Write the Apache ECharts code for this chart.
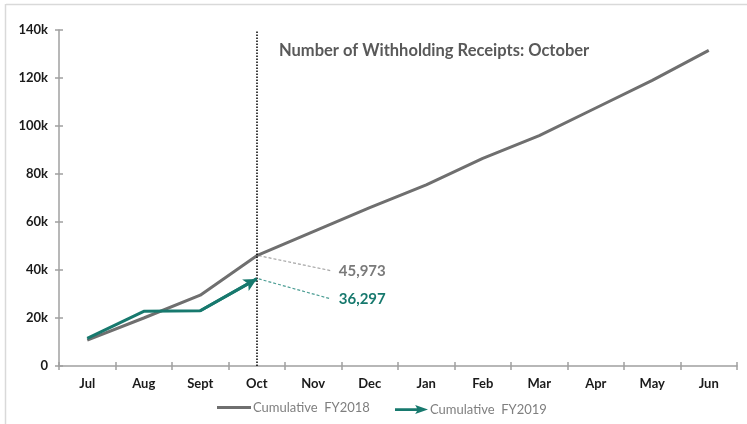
<!DOCTYPE html>
<html><head><meta charset="utf-8">
<script src="https://cdn.jsdelivr.net/npm/echarts@6/dist/echarts.min.js"></script>
<style>html,body{margin:0;padding:0;background:#fff}#c{width:747px;height:424px}</style>
</head><body><div id="c"></div>
<script>
const months = ['Jul','Aug','Sept','Oct','Nov','Dec','Jan','Feb','Mar','Apr','May','Jun'];
const fy2018 = [10800, 20000, 29500, 45973, 56000, 66000, 75500, 86500, 96000, 107500, 119000, 131500];
const fy2019 = [11500, 22800, 23000, 36297];
const seriesNames = ['Cumulative  FY2018', 'Cumulative  FY2019'];
const titleText = 'Number of Withholding Receipts: October';
const markMonth = 'Oct';

const GRAY = '#6f6f6f', TEAL = '#17796e', FONT = 'Lato';
const chart = echarts.init(document.getElementById('c'), null, {renderer: 'canvas'});
const yAxisBase = {type: 'value', min: 0, max: 140000, interval: 20000, position: 'left'};
const option = {
  animation: false,
  title: {text: titleText, left: 274, top: 37,
    textStyle: {fontFamily: FONT, fontSize: 16.5, fontWeight: 'bold', color: '#595959'}},
  grid: {left: 59, right: 10, top: 30, bottom: 58},
  legend: [
    {data: [seriesNames[0]], left: 212, top: 396, itemWidth: 34, itemHeight: 3, icon: 'rect',
     itemGap: 0, textStyle: {fontFamily: FONT, fontSize: 13, color: '#7f7f7f', padding: [0,0,0,-3]}},
    {data: [seriesNames[1]], left: 390, top: 398, itemWidth: 33, itemHeight: 10,
     icon: 'path://M0,3.5 L24,3.5 L22,0 L36,5 L22,10 L24,6.5 L0,6.5 Z',
     textStyle: {fontFamily: FONT, fontSize: 13, color: '#7f7f7f', padding: [0,0,0,-3]}}
  ],
  xAxis: [
    {type: 'category', data: months, boundaryGap: true,
     axisLine: {lineStyle: {color: '#a0a0a0', width: 1.5}},
     axisTick: {show: true, length: 4, lineStyle: {color: '#a0a0a0', width: 1.5}},
     axisLabel: {fontFamily: FONT, fontSize: 13, fontWeight: 'bold', color: '#1a1a1a', margin: 11}},
    {type: 'category', data: months, boundaryGap: true, position: 'bottom',
     axisLine: {show: false}, axisLabel: {show: false},
     axisTick: {show: true, inside: true, length: 4, lineStyle: {color: '#a0a0a0', width: 1.5}}}
  ],
  yAxis: [
    Object.assign({}, yAxisBase, {
     axisLine: {show: true, lineStyle: {color: '#a0a0a0', width: 1.5}},
     axisTick: {show: true, length: 4, lineStyle: {color: '#a0a0a0', width: 1.5}},
     splitLine: {show: false},
     axisLabel: {fontFamily: FONT, fontSize: 13, fontWeight: 'bold', color: '#1a1a1a', margin: 11,
       formatter: v => v === 0 ? '0' : (v / 1000) + 'k'}}),
    Object.assign({}, yAxisBase, {
     axisLine: {show: false}, axisLabel: {show: false}, splitLine: {show: false},
     axisTick: {show: true, inside: true, length: 4, lineStyle: {color: '#a0a0a0', width: 1.5}}})
  ],
  series: [
    {name: seriesNames[0], type: 'line', data: fy2018, symbol: 'none', color: GRAY,
     lineStyle: {color: GRAY, width: 3}, z: 2,
     markLine: {silent: true, symbol: 'none', label: {show: false},
       lineStyle: {color: '#000', type: 'dotted', width: 1.5},
       data: [{xAxis: markMonth}]}},
    {name: seriesNames[1], type: 'line', data: fy2019, symbol: 'none', color: TEAL,
     lineStyle: {color: TEAL, width: 3}, z: 3,
     markLine: {silent: true, symbol: ['none', 'arrow'], symbolSize: [10, 13], label: {show: false},
       lineStyle: {color: TEAL, type: 'solid', width: 3},
       data: [[{coord: [months[fy2019.length - 2], fy2019[fy2019.length - 2]]},
               {coord: [months[fy2019.length - 1], fy2019[fy2019.length - 1]]}]]}}
  ]
};
chart.setOption(option);

const idx = months.indexOf(markMonth);
const p1 = chart.convertToPixel({seriesIndex: 0}, [idx, fy2018[idx]]);
const p2 = chart.convertToPixel({seriesIndex: 1}, [idx, fy2019[idx]]);
const fmt = v => v.toLocaleString('en-US');
chart.setOption({graphic: [
  {type: 'line', shape: {x1: 6, y1: 4.5, x2: 747, y2: 4.5}, style: {stroke: '#d9d9d9', lineWidth: 1.5}},
  {type: 'line', shape: {x1: 5.5, y1: 4, x2: 5.5, y2: 424}, style: {stroke: '#d9d9d9', lineWidth: 1.5}},
  {type: 'line', shape: {x1: p1[0] + 2, y1: p1[1], x2: p1[0] + 74, y2: p1[1] + 15},
   style: {stroke: '#a6a6a6', lineWidth: 1.2, lineDash: [3, 2]}},
  {type: 'text', x: p1[0] + 82, y: p1[1] + 15,
   style: {text: fmt(fy2018[idx]), fill: '#7a7a7a', font: 'bold 15px Lato', verticalAlign: 'middle'}},
  {type: 'line', shape: {x1: p2[0] + 2, y1: p2[1], x2: p2[0] + 74, y2: p2[1] + 20},
   style: {stroke: '#4d9e95', lineWidth: 1.2, lineDash: [3, 2]}},
  {type: 'text', x: p2[0] + 82, y: p2[1] + 20,
   style: {text: fmt(fy2019[idx]), fill: TEAL, font: 'bold 15px Lato', verticalAlign: 'middle'}}
]});
</script></body></html>
